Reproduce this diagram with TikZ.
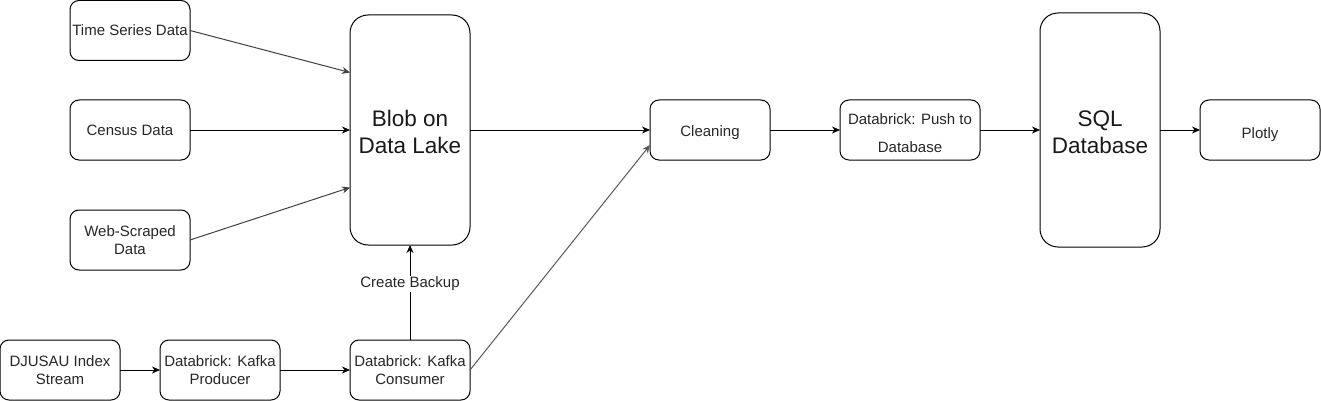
\documentclass[tikz,border=0pt]{standalone}
\usepackage{fontspec}
\setmainfont{Liberation Sans}
\usetikzlibrary{arrows.meta,calc}
\newcommand\mystrut[1]{\rule{0pt}{#1}}
\begin{document}
\begin{tikzpicture}[x=1pt,y=-1pt,
  box/.style={draw=black,line width=1pt,rounded corners=9pt,minimum width=120pt,minimum height=60pt,inner sep=0pt,outer sep=0pt,align=center,font=\fontsize{15}{18}\selectfont,text=black!85},
  bigbox/.style={draw=black,line width=1pt,rounded corners=18pt,minimum width=120pt,inner sep=0pt,outer sep=0pt,align=center,font=\fontsize{22.5}{27}\selectfont,text=black!90},
  conn/.style={line width=1pt,-{Stealth[length=8pt,width=7pt,inset=2.5pt]}},
  lbl/.style={fill=white,inner sep=1pt,font=\fontsize{15}{17}\selectfont,text=black!85}]
\useasboundingbox (0,0) rectangle (1321,401);
\node[box] (ts) at (130,30.5) {Time Series Data};
\node[box] (cen) at (130,130) {Census Data};
\node[box] (web) at (130,240) {Web-Scraped\\Data};
\node[bigbox,minimum height=230pt] (blob) at (410,130) {\mystrut{20.5pt}Blob on\\Data Lake};
\node[box] (clean) at (710,130) {\mystrut{16pt}Cleaning};
\node[box,minimum width=140pt,font=\fontsize{15}{28}\selectfont] (push) at (910,130) {\mystrut{17pt}Databrick: Push to\\Database};
\node[bigbox,minimum height=234pt] (sql) at (1100,130) {\mystrut{20pt}SQL\\Database};
\node[box] (plot) at (1260,130) {\mystrut{20pt}Plotly};
\node[box] (dj) at (60,370) {DJUSAU Index\\Stream};
\node[box] (prod) at (220,370) {Databrick: Kafka\\Producer};
\node[box] (cons) at (410,370) {Databrick: Kafka\\Consumer};
\draw[conn,black!75] (ts.east) -- ($(blob.north west)!0.25!(blob.south west)$);
\draw[conn] (cen.east) -- (blob.west);
\draw[conn,black!75] (web.east) -- ($(blob.north west)!0.75!(blob.south west)$);
\draw[conn] (blob.east) -- (clean.west);
\draw[conn] (clean.east) -- (push.west);
\draw[conn] (push.east) -- (sql.west);
\draw[conn] (sql.east) -- (plot.west);
\draw[conn] (dj.east) -- (prod.west);
\draw[conn] (prod.east) -- (cons.west);
\draw[conn] (cons.north) -- node[lbl,pos=0.59] {Create Backup} (blob.south);
\draw[conn,black!65] (cons.east) -- ($(clean.north west)!0.75!(clean.south west)$);
\end{tikzpicture}
\end{document}
